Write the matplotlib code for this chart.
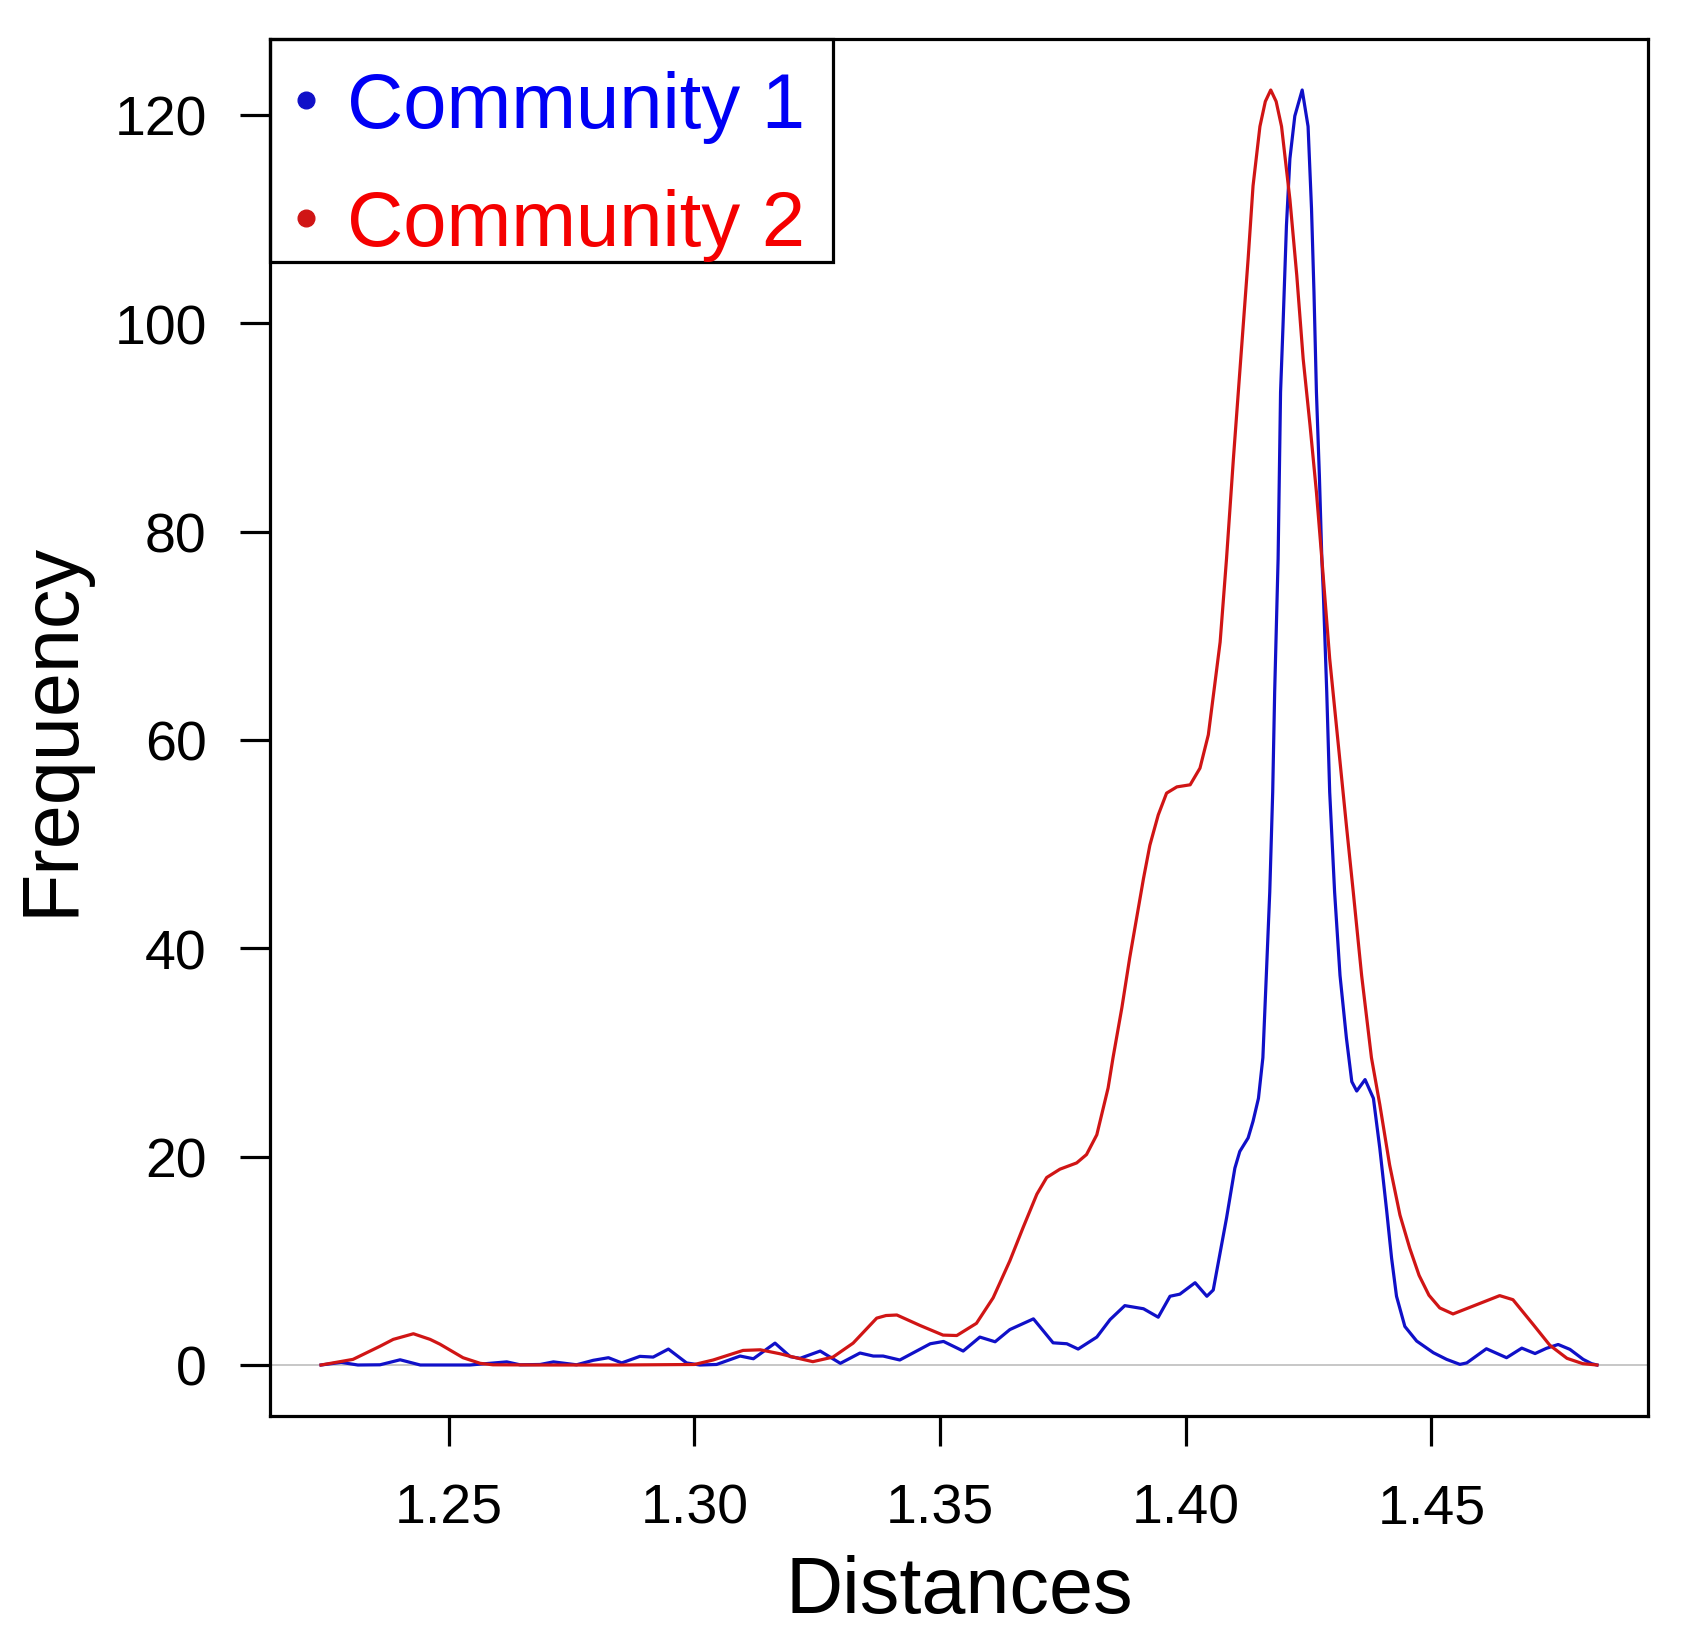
import numpy as np
import matplotlib
matplotlib.use("Agg")
import matplotlib.pyplot as plt
from matplotlib.lines import Line2D
from matplotlib.patches import Rectangle

plt.rcParams['font.family'] = ['Liberation Sans', 'DejaVu Sans']

# Community 1 (blue) density curve
c1_x = [1.2240, 1.2281, 1.2315, 1.2360, 1.2401, 1.2442, 1.2543, 1.2618, 1.2645, 1.2686,
        1.2713, 1.2760, 1.2794, 1.2825, 1.2852, 1.2889, 1.2916, 1.2947, 1.2984, 1.3011,
        1.3045, 1.3093, 1.3120, 1.3164, 1.3195, 1.3215, 1.3256, 1.3297, 1.3337, 1.3364,
        1.3384, 1.3418, 1.3480, 1.3507, 1.3547, 1.3581, 1.3612, 1.3642, 1.3690, 1.3730,
        1.3758, 1.3781, 1.3819, 1.3846, 1.3876, 1.3914, 1.3944, 1.3968, 1.3988, 1.4019,
        1.4043, 1.4056, 1.4063, 1.4083, 1.4100, 1.4110, 1.4127, 1.4137, 1.4148, 1.4154,
        1.4157, 1.4164, 1.4171, 1.4177, 1.4181, 1.4188, 1.4190, 1.4193, 1.4198, 1.4205,
        1.4212, 1.4222, 1.4237, 1.4249, 1.4256, 1.4261, 1.4266, 1.4272, 1.4277, 1.4280,
        1.4287, 1.4293, 1.4303, 1.4314, 1.4327, 1.4338, 1.4348, 1.4365, 1.4382, 1.4395,
        1.4409, 1.4419, 1.4429, 1.4446, 1.4470, 1.4504, 1.4531, 1.4558, 1.4572, 1.4612,
        1.4653, 1.4684, 1.4711, 1.4734, 1.4758, 1.4782, 1.4809, 1.4826, 1.4837]
c1_y = [0, 0.25, 0, 0.02, 0.5, 0, 0, 0.3, 0.02, 0.05,
        0.3, 0.02, 0.45, 0.7, 0.2, 0.83, 0.76, 1.53, 0.2, 0,
        0.05, 0.86, 0.6, 2.1, 0.8, 0.64, 1.34, 0.16, 1.15, 0.86,
        0.86, 0.48, 2.04, 2.26, 1.34, 2.68, 2.23, 3.4, 4.43, 2.13,
        2.04, 1.53, 2.68, 4.36, 5.7, 5.4, 4.59, 6.6, 6.8, 7.9,
        6.6, 7.2, 9.0, 14.1, 18.9, 20.5, 21.8, 23.4, 25.6, 28.2,
        29.5, 37.4, 45.4, 55.0, 64.6, 77.4, 83.8, 93.4, 99.8, 109.4,
        115.8, 119.9, 122.4, 118.9, 111.0, 103.0, 93.4, 85.4, 77.4, 74.2,
        64.6, 55.0, 45.4, 37.4, 31.4, 27.2, 26.3, 27.4, 25.6, 20.8,
        14.8, 10.25, 6.6, 3.7, 2.3, 1.18, 0.54, 0.06, 0.2, 1.56,
        0.7, 1.62, 1.1, 1.6, 1.97, 1.5, 0.54, 0.13, 0]

# Community 2 (red) density curve
c2_x = [1.2240, 1.2305, 1.2360, 1.2387, 1.2428, 1.2462, 1.2482, 1.2529, 1.2564, 1.2590,
        1.2700, 1.2850, 1.3000, 1.3038, 1.3099, 1.3134, 1.3174, 1.3215, 1.3241, 1.3282,
        1.3323, 1.3371, 1.3390, 1.3412, 1.3459, 1.3506, 1.3534, 1.3574, 1.3608, 1.3642,
        1.3669, 1.3697, 1.3717, 1.3744, 1.3778, 1.3798, 1.3819, 1.3842, 1.3852, 1.3870,
        1.3886, 1.3900, 1.3914, 1.3927, 1.3944, 1.3961, 1.3982, 1.4009, 1.4029, 1.4046,
        1.4059, 1.4070, 1.4083, 1.4097, 1.4107, 1.4117, 1.4127, 1.4137, 1.4151, 1.4162,
        1.4173, 1.4184, 1.4195, 1.4212, 1.4226, 1.4239, 1.4253, 1.4266, 1.4277, 1.4293,
        1.4310, 1.4327, 1.4341, 1.4358, 1.4378, 1.4395, 1.4415, 1.4436, 1.4456, 1.4475,
        1.4495, 1.4517, 1.4544, 1.4584, 1.4639, 1.4666, 1.4707, 1.4741, 1.4776, 1.4808,
        1.4837]
c2_y = [0, 0.54, 1.8, 2.46, 3.0, 2.46, 2.0, 0.7, 0.16, 0.02,
        0, 0, 0.05, 0.48, 1.4, 1.46, 1.08, 0.6, 0.32, 0.76,
        2.1, 4.5, 4.75, 4.8, 3.8, 2.87, 2.83, 4.0, 6.45, 10.0,
        13.2, 16.4, 18.0, 18.8, 19.4, 20.2, 22.1, 26.6, 29.5, 34.3,
        39.1, 42.9, 46.7, 49.9, 52.8, 54.9, 55.5, 55.7, 57.3, 60.5,
        65.3, 69.4, 77.4, 87.0, 93.4, 99.8, 106.2, 113.2, 118.9, 121.3,
        122.4, 121.3, 118.9, 111.9, 104.6, 96.6, 90.2, 83.8, 77.4, 67.8,
        59.8, 51.8, 45.4, 37.4, 29.5, 25.0, 19.2, 14.4, 11.2, 8.6,
        6.7, 5.48, 4.9, 5.64, 6.66, 6.27, 3.9, 1.9, 0.64, 0.13,
        0]

labels = ["Community 1", "Community 2"]
line_colors = ["#1010c8", "#d01515"]
text_colors = ["#0000f5", "#f50000"]
x_ticks = [1.25, 1.30, 1.35, 1.40, 1.45]
x_tick_labels = ["1.25", "1.30", "1.35", "1.40", "1.45"]
y_ticks = [0, 20, 40, 60, 80, 100, 120]

W, H = 1697, 1649
fig = plt.figure(figsize=(W / 100, H / 100), dpi=100)
ax = fig.add_axes([270 / W, (H - 1417) / H, 1378 / W, 1377 / H])

ax.axhline(0, color="#bebebe", lw=1.2, zorder=1)
ax.plot(c1_x, c1_y, color=line_colors[0], lw=2.3, zorder=2)
ax.plot(c2_x, c2_y, color=line_colors[1], lw=2.3, zorder=3)

# R style 4% padding
xmin, xmax = min(c1_x + c2_x), max(c1_x + c2_x)
ymax = max(c1_y + c2_y)
dx = 0.04 * (xmax - xmin)
ax.set_xlim(xmin - dx, xmax + dx)
ax.set_ylim(-0.04 * ymax, 1.04 * ymax)

ax.set_xticks(x_ticks)
ax.set_xticklabels(x_tick_labels)
ax.set_yticks(y_ticks)
ax.tick_params(direction="out", length=21.6, width=2.3, labelsize=40, colors="black")
ax.tick_params(axis="x", pad=26)
ax.tick_params(axis="y", pad=24)
for s in ax.spines.values():
    s.set_linewidth(2.3)

ax.set_xlabel("Distances", fontsize=57)
ax.set_ylabel("Frequency", fontsize=57)
ax.xaxis.set_label_coords(0.5, -0.1)
ax.yaxis.set_label_coords(-0.131, 0.5)

# legend: texts and dots, framed by a rectangle like R's legend box
handles = [Line2D([], [], ls="", marker="o", markersize=12, color=c) for c in line_colors]
leg = ax.legend(handles, labels, loc="upper left", bbox_to_anchor=(0, 1),
                borderaxespad=0, frameon=False, fontsize=56, borderpad=0.4,
                handlelength=0.13, handletextpad=0.46, labelspacing=0.58)
for t, c in zip(leg.get_texts(), text_colors):
    t.set_color(c)
ax.add_patch(Rectangle((0, (1417 - 263) / 1377), (833 - 270) / 1378, (263 - 40) / 1377,
                       transform=ax.transAxes, fill=False, ec="black", lw=2.3,
                       clip_on=False, zorder=5))

fig.savefig("out.png", dpi=100)
